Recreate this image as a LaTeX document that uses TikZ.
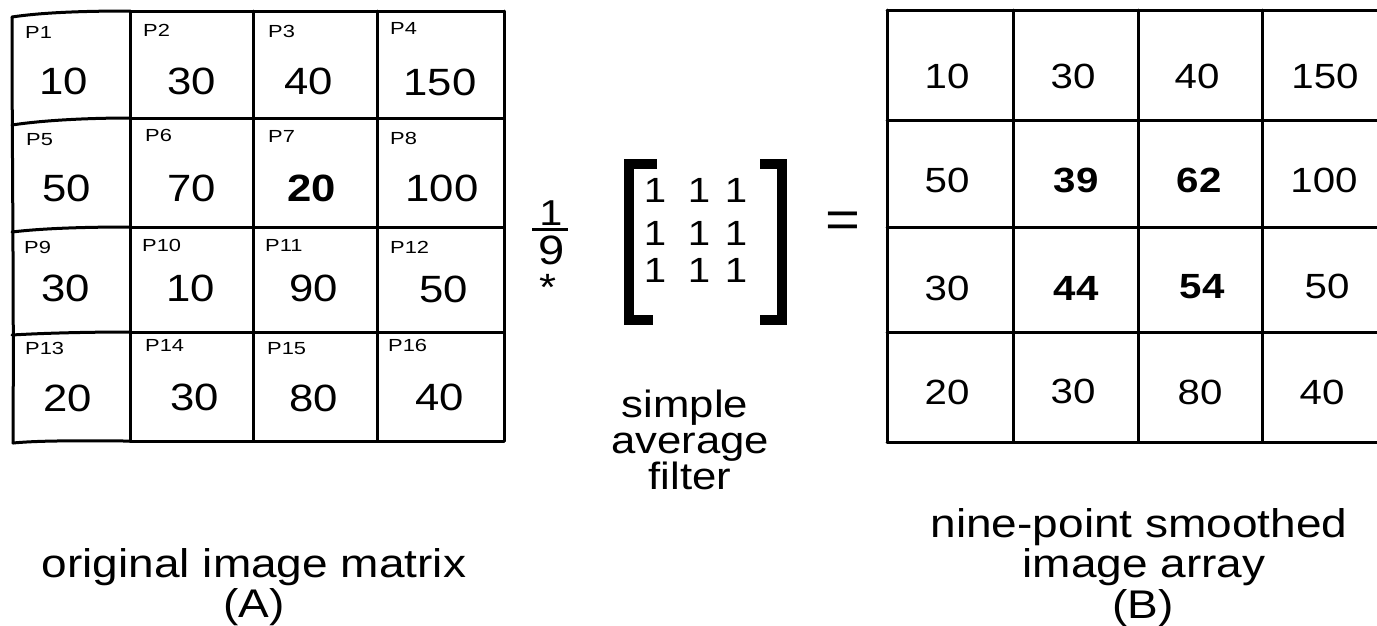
\documentclass[tikz,border=0pt]{standalone}
\usepackage{fontspec}
\setmainfont[FakeStretch=1.15]{Liberation Sans}
\newfontfamily\lblfont[FakeStretch=1.25]{Liberation Sans}
\begin{document}
\begin{tikzpicture}[x=1pt,y=-1pt,
  gridline/.style={line width=3pt, line cap=round, line join=round},
  num/.style={inner sep=0pt, anchor=center, font=\fontsize{38}{38}\selectfont},
  rnum/.style={inner sep=0pt, anchor=center, font=\fontsize{35}{35}\selectfont},
  plabel/.style={inner sep=0pt, anchor=west, font=\lblfont\fontsize{17.5}{17.5}\selectfont},
  one/.style={inner sep=0pt, anchor=center, font=\fontsize{35}{35}\selectfont},
  caption/.style={inner sep=0pt, anchor=base, font=\fontsize{40}{40}\selectfont},
  midcaption/.style={inner sep=0pt, anchor=base, font=\fontsize{38}{38}\selectfont},
  bracket/.style={line width=10pt, line cap=butt, line join=miter}
]
\useasboundingbox (0,0) rectangle (1377,625);
\fill[white] (0,0) rectangle (1377,625);

% ---------------- left grid (A) ----------------
\draw[gridline] (12,17) .. controls (12,150) and (14,300) .. (13,443);
\foreach \x in {130,253,377,504} \draw[gridline] (\x,11) -- (\x,441);
\foreach \y in {11,118,227,332,441} \draw[gridline] (130,\y) -- (504,\y);
\draw[gridline] (12,17)  .. controls (45,12)  and (90,11)  .. (130,11);
\draw[gridline] (12,125) .. controls (45,120) and (90,118) .. (130,118);
\draw[gridline] (12,232) .. controls (45,228) and (90,227) .. (130,227);
\draw[gridline] (12,335) .. controls (45,333) and (90,332) .. (130,332);
\draw[gridline] (13,443) .. controls (45,440) and (90,441) .. (130,441);

\node[plabel] (p1)  at (25,32)  {P1};
\node[plabel] (p2)  at (143,30) {P2};
\node[plabel] (p3)  at (268,31) {P3};
\node[plabel] (p4)  at (390,28) {P4};
\node[plabel] (p5)  at (26,140) {P5};
\node[plabel] (p6)  at (145,135) {P6};
\node[plabel] (p7)  at (268,136) {P7};
\node[plabel] (p8)  at (390,138) {P8};
\node[plabel] (p9)  at (24,247) {P9};
\node[plabel] (p10) at (142,245) {P10};
\node[plabel] (p11) at (265,245) {P11};
\node[plabel] (p12) at (390,247) {P12};
\node[plabel] (p13) at (25,348) {P13};
\node[plabel] (p14) at (145,345) {P14};
\node[plabel] (p15) at (267,349) {P15};
\node[plabel] (p16) at (388,345) {P16};

\node[num] (a1)  at (64,81)   {10};
\node[num] (a2)  at (192,81)  {30};
\node[num] (a3)  at (309,81)  {40};
\node[num] (a4)  at (440,82)  {150};
\node[num] (a5)  at (67,188)  {50};
\node[num] (a6)  at (192,188) {70};
\node[num] (a7)  at (312,188) {\bfseries 20};
\node[num] (a8)  at (442,188) {100};
\node[num] (a9)  at (66,288)  {30};
\node[num] (a10) at (191,288) {10};
\node[num] (a11) at (314,288) {90};
\node[num] (a12) at (444,289) {50};
\node[num] (a13) at (68,398)  {20};
\node[num] (a14) at (195,397) {30};
\node[num] (a15) at (314,398) {80};
\node[num] (a16) at (440,397) {40};

% ---------------- filter ----------------
\node[inner sep=0pt, font=\fontsize{36}{36}\selectfont] (fnum) at (551,213) {1};
\draw[line width=3pt] (532,229) -- (568,229);
\node[inner sep=0pt, font=\fontsize{41}{41}\selectfont] (fden) at (552,250) {9};
\node[inner sep=0pt, font=\fontsize{38}{38}\selectfont] (star) at (548,287) {*};

\draw[bracket] (657,164) -- (629,164) -- (629,320) -- (653,320);
\draw[bracket] (760,164) -- (782,164) -- (782,320) -- (760,320);
\foreach \r/\y in {1/190,2/233,3/270}
  \foreach \c/\x in {1/655,2/699,3/736}
    \node[one] (m\r\c) at (\x,\y) {1};

\node[inner sep=0pt, font=\fontsize{52}{52}\selectfont] (eq) at (843,225) {=};

\node[midcaption] (s1) at (685,417) {simple};
\node[midcaption] (s2) at (690,453) {average};
\node[midcaption] (s3) at (690,489) {filter};

% ---------------- right grid (B) ----------------
\draw[gridline] (887,10) -- (887,442);
\foreach \x in {1013,1138,1262} \draw[gridline] (\x,10) -- (\x,442);
\foreach \y in {10,120,227,332,442} \draw[gridline] (887,\y) -- (1378,\y);

\node[rnum] (b1)  at (947,76)   {10};
\node[rnum] (b2)  at (1073,76)  {30};
\node[rnum] (b3)  at (1197,76)  {40};
\node[rnum] (b4)  at (1325,76)  {150};
\node[rnum] (b5)  at (947,180)  {50};
\node[rnum] (b6)  at (1076,180) {\bfseries 39};
\node[rnum] (b7)  at (1199,180) {\bfseries 62};
\node[rnum] (b8)  at (1324,180) {100};
\node[rnum] (b9)  at (947,288)  {30};
\node[rnum] (b10) at (1076,288) {\bfseries 44};
\node[rnum] (b11) at (1202,287) {\bfseries 54};
\node[rnum] (b12) at (1327,286) {50};
\node[rnum] (b13) at (947,392)  {20};
\node[rnum] (b14) at (1073,391) {30};
\node[rnum] (b15) at (1200,392) {80};
\node[rnum] (b16) at (1322,392) {40};

% ---------------- captions ----------------
\node[caption] (ca1) at (254,577) {original image matrix};
\node[caption] (ca2) at (254,617) {(A)};
\node[caption] (cb1) at (1139,537) {nine-point smoothed};
\node[caption] (cb2) at (1144,577) {image array};
\node[caption] (cb3) at (1143,618) {(B)};
\end{tikzpicture}
\end{document}
